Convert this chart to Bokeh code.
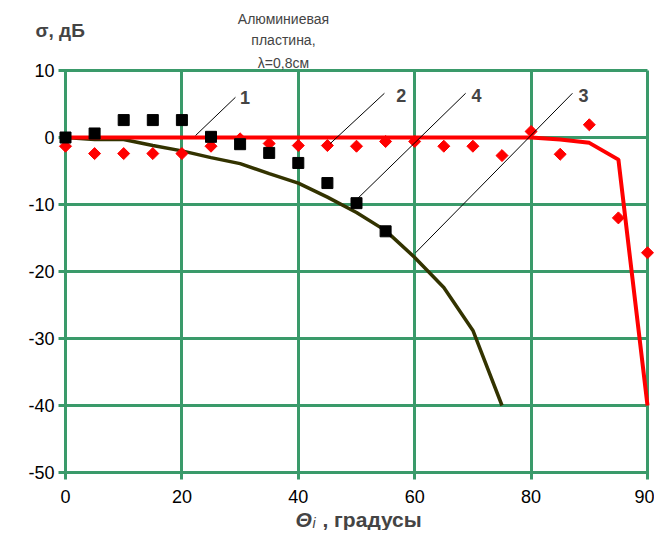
import numpy as np
from bokeh.plotting import figure
from bokeh.models import Range1d, FixedTicker, Label
from bokeh.embed import file_html
from bokeh.resources import INLINE

# Category axis (Excel-style): angles in degrees, evenly spaced categories
angles = [0, 5, 10, 15, 20, 25, 30, 35, 40, 45, 50, 55, 60, 65, 70, 75, 80, 82.5, 85, 87.5, 90]
tick_labels = ["0", "20", "40", "60", "80", "90"]
tick_angles = [0, 20, 40, 60, 80, 90]

# Curve 2 (red line), theory
red_line = [0, 0, 0, 0, 0, 0, 0, 0, 0, 0, 0, 0, 0, 0, 0, 0, 0, -0.3, -0.8, -3.3, -40]
# Curve 3 (dark olive line)
olive_line = [0, -0.3, -0.3, -1.2, -2.0, -3.0, -3.9, -5.4, -6.8, -8.9, -11.2, -13.9, -17.9, -22.4, -28.8, -40]
# Series 1/4: black squares
squares = [0, 0.6, 2.6, 2.6, 2.6, 0.1, -1.0, -2.3, -3.8, -6.8, -9.8, -14.0]
# Red diamonds (experiment)
diamonds = [-1.3, -2.4, -2.4, -2.4, -2.4, -1.3, -0.2, -0.9, -1.2, -1.2, -1.3, -0.6, -0.6,
            -1.3, -1.3, -2.7, 0.9, -2.5, 1.9, -12.0, -17.2]

y_ticks = [-50, -40, -30, -20, -10, 0, 10]

GREEN = "#3a9a6a"
FONT = "Liberation Sans"

idx = list(range(len(angles)))
tick_idx = [angles.index(a) for a in tick_angles]
x_lo, x_hi = 0, len(angles) - 1
y_lo, y_hi = min(y_ticks), max(y_ticks)

# layout: the frame covers the whole canvas; the plot box sits inside it
W, H = 654, 530
LEFT, TOP = 65, 70           # plot box offset inside canvas (px)
BOX_W, BOX_H = 582, 402      # plot box size (px)
ppx = BOX_W / (x_hi - x_lo)
ppy = BOX_H / (y_hi - y_lo)

p = figure(width=W, height=H, output_backend="svg", toolbar_location=None,
           x_range=Range1d(x_lo - LEFT / ppx, x_lo + (W - LEFT) / ppx),
           y_range=Range1d(y_hi - (H - TOP) / ppy, y_hi + TOP / ppy),
           min_border=0)
p.title.visible = False
p.background_fill_color = "white"
p.border_fill_color = "white"
p.outline_line_color = None
p.grid.visible = False

# axes drawn at the box edges; their long inner ticks form the grid
p.xaxis.fixed_location = y_lo
p.xaxis.bounds = (x_lo, x_hi)
p.xaxis.ticker = FixedTicker(ticks=tick_idx)
p.xaxis.major_label_overrides = {i: t for i, t in zip(tick_idx, tick_labels)}
p.xaxis.major_tick_in = BOX_H
p.xaxis.major_label_standoff = 10

p.yaxis.fixed_location = x_lo
p.yaxis.bounds = (y_lo, y_hi)
p.yaxis.ticker = FixedTicker(ticks=y_ticks)
p.yaxis.major_label_overrides = {t: str(t) for t in y_ticks}
p.yaxis.major_tick_in = BOX_W
p.yaxis.major_label_standoff = 4

for ax in (p.xaxis, p.yaxis):
    ax.level = "underlay"
    ax.axis_line_color = GREEN
    ax.axis_line_width = 3
    ax.major_tick_line_color = GREEN
    ax.major_tick_line_width = 3
    ax.major_tick_out = 7
    ax.minor_tick_line_color = None
    ax.major_label_text_font = FONT
    ax.major_label_text_font_size = "18px"
    ax.major_label_text_color = "black"

# data
p.line(idx[:len(olive_line)], olive_line, line_color="#333300", line_width=3.5)
p.line(idx, red_line, line_color="#ff0000", line_width=4)
p.scatter(idx, diamonds, marker="square", angle=np.pi / 4, size=8.5,
          fill_color="#ff0000", line_color="#ff0000")
p.scatter(idx[:len(squares)], squares, marker="square", size=11,
          fill_color="black", line_color="black")

# callouts: (text, text x, text y, line start x,y, line end x,y) in data coords
callouts = [
    ("1", 6.0, 6.0, 5.84, 6.0, 4.47, 0.3),
    ("2", 11.37, 6.3, 10.96, 6.6, 9.1, -0.9),
    ("4", 13.95, 6.3, 13.75, 6.6, 9.97, -9.4),
    ("3", 17.63, 6.3, 17.42, 6.6, 12.03, -17.2),
]
for t, tx, ty, x0, y0, x1, y1 in callouts:
    p.line([x0, x1], [y0, y1], line_color="black", line_width=1)
    p.add_layout(Label(x=tx, y=ty, text=t, text_font=FONT, text_font_size="18px",
                       text_font_style="bold", text_baseline="middle", text_align="left"))

# chart title
for line_text, yy in [("Алюминиевая", 17.76), ("пластина,", 14.48), ("λ=0,8см", 11.19)]:
    p.add_layout(Label(x=7.49, y=yy, text=line_text, text_font=FONT,
                       text_font_size="14px", text_align="center", text_baseline="middle"))

# y axis title
p.add_layout(Label(x=-1.03, y=15.97, text="σ, дБ", text_font=FONT, text_font_size="19px",
                   text_font_style="bold", text_align="left", text_baseline="middle"))

# x axis title
p.add_layout(Label(x=7.90, y=-57.0, text="Θ", text_font=FONT, text_font_size="21px",
                   text_font_style="bold italic", text_align="left", text_baseline="middle"))
p.add_layout(Label(x=8.49, y=-57.6, text="i", text_font=FONT, text_font_size="14px",
                   text_font_style="italic", text_align="left", text_baseline="middle"))
p.add_layout(Label(x=8.83, y=-57.0, text=", градусы", text_font=FONT, text_font_size="21px",
                   text_font_style="bold", text_align="left", text_baseline="middle"))

open("out.html", "w").write(file_html(p, INLINE))
